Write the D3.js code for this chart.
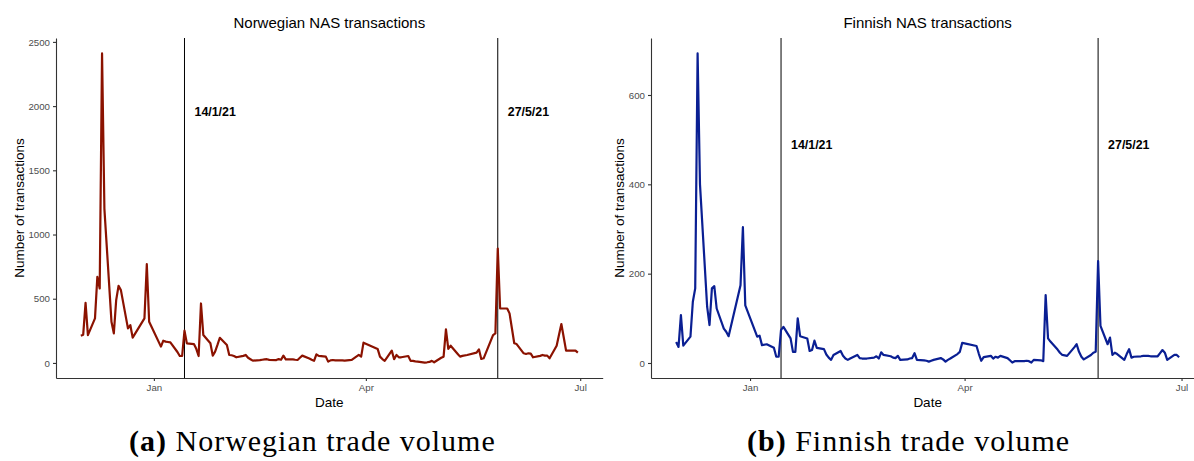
<!DOCTYPE html>
<html>
<head>
<meta charset="utf-8">
<script src="https://cdn.jsdelivr.net/npm/d3@7"></script>
<style>
	body { margin: 0; background: #fff; }
</style>
</head>
<body>
<svg id="chart" width="1194" height="461"></svg>
<script>
// Norwegian NAS daily transactions
const norDates = [
	"2020-12-01","2020-12-02","2020-12-03","2020-12-04","2020-12-07","2020-12-08","2020-12-09","2020-12-10","2020-12-11",
	"2020-12-14","2020-12-15","2020-12-16","2020-12-17","2020-12-18","2020-12-21","2020-12-22","2020-12-23",
	"2020-12-28","2020-12-29","2020-12-30","2021-01-04","2021-01-05","2021-01-06","2021-01-07","2021-01-08",
	"2021-01-11","2021-01-12","2021-01-13","2021-01-14","2021-01-15","2021-01-18","2021-01-19","2021-01-20","2021-01-21","2021-01-22",
	"2021-01-25","2021-01-26","2021-01-27","2021-01-28","2021-01-29","2021-02-01","2021-02-02","2021-02-03","2021-02-04","2021-02-05",
	"2021-02-08","2021-02-09","2021-02-10","2021-02-11","2021-02-12","2021-02-15","2021-02-16","2021-02-17","2021-02-18","2021-02-19",
	"2021-02-22","2021-02-23","2021-02-24","2021-02-25","2021-02-26","2021-03-01","2021-03-02","2021-03-03","2021-03-04","2021-03-05",
	"2021-03-08","2021-03-09","2021-03-10","2021-03-11","2021-03-12","2021-03-15","2021-03-16","2021-03-17","2021-03-18","2021-03-19",
	"2021-03-22","2021-03-23","2021-03-24","2021-03-25","2021-03-26","2021-03-29","2021-03-30","2021-03-31",
	"2021-04-06","2021-04-07","2021-04-08","2021-04-09","2021-04-12","2021-04-13","2021-04-14","2021-04-15","2021-04-16",
	"2021-04-19","2021-04-20","2021-04-21","2021-04-22","2021-04-23","2021-04-26","2021-04-27","2021-04-28","2021-04-29","2021-04-30",
	"2021-05-03","2021-05-04","2021-05-05","2021-05-06","2021-05-07","2021-05-10","2021-05-11","2021-05-12","2021-05-14",
	"2021-05-18","2021-05-19","2021-05-20","2021-05-21","2021-05-25","2021-05-26","2021-05-27","2021-05-28",
	"2021-05-31","2021-06-01","2021-06-02","2021-06-03","2021-06-04","2021-06-07","2021-06-08","2021-06-09","2021-06-10","2021-06-11",
	"2021-06-14","2021-06-15","2021-06-16","2021-06-17","2021-06-18","2021-06-21","2021-06-22","2021-06-23","2021-06-24","2021-06-25",
	"2021-06-28","2021-06-29","2021-06-30"
];
const norValues = [
	212, 220, 468, 217, 347, 670, 580, 2410, 1200,
	321, 230, 489, 600, 567, 269, 295, 197,
	347, 769, 321, 127, 173, 166, 163, 160,
	85, 54, 54, 251, 153, 147, 110, 54, 463, 217,
	153, 57, 88, 140, 196, 140, 62, 60, 54, 44,
	55, 62, 40, 29, 18, 22, 25, 28, 29, 24,
	22, 30, 25, 57, 28, 28, 25, 23, 40, 57,
	35, 25, 16, 67, 55, 49, 10, 20, 23, 20,
	20, 18, 20, 22, 23, 62, 49, 158,
	109, 49, 30, 16, 96, 29, 62, 44, 44,
	54, 16, 16, 12, 10, 3, 5, 8, 16, 5,
	40, 49, 261, 109, 134, 70, 49, 55, 62,
	80, 106, 31, 36, 217, 230, 890, 424,
	424, 386, 270, 153, 147, 75, 70, 75, 72, 44,
	55, 62, 57, 57, 36, 134, 220, 303, 200, 96,
	96, 96, 80
];

// Finnish NAS daily transactions
const finDates = [
	"2020-12-01","2020-12-02","2020-12-03","2020-12-04","2020-12-07","2020-12-08","2020-12-09","2020-12-10","2020-12-11",
	"2020-12-14","2020-12-15","2020-12-16","2020-12-17","2020-12-18","2020-12-21","2020-12-22","2020-12-23",
	"2020-12-28","2020-12-29","2020-12-30","2021-01-04","2021-01-05","2021-01-06","2021-01-08",
	"2021-01-11","2021-01-12","2021-01-13","2021-01-14","2021-01-15","2021-01-18","2021-01-19","2021-01-20","2021-01-21","2021-01-22",
	"2021-01-25","2021-01-26","2021-01-27","2021-01-28","2021-01-29","2021-02-01","2021-02-02","2021-02-03","2021-02-04","2021-02-05",
	"2021-02-08","2021-02-09","2021-02-10","2021-02-11","2021-02-12","2021-02-15","2021-02-16","2021-02-17","2021-02-18","2021-02-19",
	"2021-02-22","2021-02-23","2021-02-24","2021-02-25","2021-02-26","2021-03-01","2021-03-02","2021-03-03","2021-03-04","2021-03-05",
	"2021-03-08","2021-03-09","2021-03-10","2021-03-11","2021-03-12","2021-03-15","2021-03-16","2021-03-17","2021-03-18","2021-03-19",
	"2021-03-22","2021-03-23","2021-03-24","2021-03-25","2021-03-26","2021-03-29","2021-03-30","2021-03-31","2021-04-01",
	"2021-04-06","2021-04-07","2021-04-08","2021-04-09","2021-04-12","2021-04-13","2021-04-14","2021-04-15","2021-04-16",
	"2021-04-19","2021-04-20","2021-04-21","2021-04-22","2021-04-23","2021-04-26","2021-04-27","2021-04-28","2021-04-29","2021-04-30",
	"2021-05-03","2021-05-04","2021-05-05","2021-05-06","2021-05-07","2021-05-10","2021-05-11","2021-05-12","2021-05-14",
	"2021-05-17","2021-05-18","2021-05-19","2021-05-20","2021-05-21","2021-05-24","2021-05-25","2021-05-26","2021-05-27","2021-05-28",
	"2021-05-31","2021-06-01","2021-06-02","2021-06-03","2021-06-04","2021-06-07","2021-06-08","2021-06-09","2021-06-10","2021-06-11",
	"2021-06-14","2021-06-15","2021-06-16","2021-06-17","2021-06-18","2021-06-21","2021-06-22","2021-06-23","2021-06-24","2021-06-25",
	"2021-06-28","2021-06-29","2021-06-30"
];
const finValues = [
	47, 36, 107, 39, 59, 137, 167, 693, 400,
	126, 85, 167, 172, 122, 77, 70, 60,
	174, 304, 129, 59, 61, 40, 42,
	34, 14, 14, 74, 81, 55, 25, 25, 100, 60,
	55, 27, 29, 50, 34, 31, 19, 12, 7, 18,
	27, 16, 10, 7, 10, 18, 11, 10, 10, 10,
	12, 15, 10, 24, 18, 15, 12, 11, 16, 7,
	8, 10, 11, 22, 7, 6, 5, 3, 5, 7,
	11, 8, 3, 7, 10, 20, 25, 45, 44,
	38, 20, 5, 13, 16, 10, 14, 12, 16,
	11, 6, 1, 4, 4, 4, 5, 4, 1, 7,
	6, 4, 152, 55, 48, 30, 23, 18, 16,
	35, 42, 25, 14, 8, 18, 23, 25, 228, 83,
	42, 57, 18, 23, 20, 7, 20, 31, 12, 14,
	15, 16, 16, 16, 15, 15, 22, 29, 23, 7,
	18, 18, 13
];

const norYTicks = [0, 500, 1000, 1500, 2000, 2500];
const finYTicks = [0, 200, 400, 600];
const monthTicks = ["2021-01-01", "2021-04-01", "2021-07-01"];
const monthLabels = ["Jan", "Apr", "Jul"];
const eventDates = ["2021-01-14", "2021-05-27"];
const eventLabels = ["14/1/21", "27/5/21"];

const sans = "'Liberation Sans', Arial, sans-serif";
const serif = "'Liberation Serif', 'Times New Roman', serif";

const parse = d3.utcParse("%Y-%m-%d");
const svg = d3.select("#chart");

const panels = [
	{
		dates: norDates, values: norValues, yTicks: norYTicks, color: "#8b1200",
		title: "Norwegian NAS transactions", left: 56, right: 602.7, ylab: 19,
		labelValue: 1960, capX: 129, capTag: "(a)", capText: " Norwegian trade volume",
	},
	{
		dates: finDates, values: finValues, yTicks: finYTicks, color: "#0a1f93",
		title: "Finnish NAS transactions", left: 651, right: 1204.3, ylab: 619,
		labelValue: 488, capX: 747, capTag: "(b)", capText: " Finnish trade volume",
	},
];

const plotTop = 38;
const plotBottom = 378;

panels.forEach((p) => {
	const data = p.dates.map((d, i) => ({ date: parse(d), value: p.values[i] }));

	// ggplot style 5% expansion on both axes
	const [d0, d1] = d3.extent(data, (d) => d.date);
	const dPad = (d1 - d0) * 0.05;
	const x = d3
		.scaleUtc()
		.domain([new Date(+d0 - dPad), new Date(+d1 + dPad)])
		.range([p.left, p.right]);

	const [v0, v1] = d3.extent(data, (d) => d.value);
	const vPad = (v1 - v0) * 0.05;
	const y = d3
		.scaleLinear()
		.domain([v0 - vPad, v1 + vPad])
		.range([plotBottom, plotTop]);

	const g = svg.append("g").style("font-family", sans);

	// event lines
	eventDates.forEach((e, i) => {
		const ex = x(parse(e));
		g.append("line")
			.attr("x1", ex)
			.attr("x2", ex)
			.attr("y1", plotTop)
			.attr("y2", plotBottom)
			.attr("stroke", "black")
			.attr("stroke-width", 1);
		g.append("text")
			.attr("x", ex + 10)
			.attr("y", y(p.labelValue))
			.attr("dy", "0.35em")
			.style("font-size", "12.4px")
			.style("font-weight", "bold")
			.attr("fill", "black")
			.text(eventLabels[i]);
	});

	// series line
	const line = d3
		.line()
		.x((d) => x(d.date))
		.y((d) => y(d.value));

	g.append("path")
		.datum(data)
		.attr("d", line)
		.attr("fill", "none")
		.attr("stroke", p.color)
		.attr("stroke-width", 2.2)
		.attr("stroke-linejoin", "round");

	// axes
	const yAxis = g
		.append("g")
		.attr("transform", `translate(${p.left},0)`)
		.call(
			d3
				.axisLeft(y)
				.tickValues(p.yTicks)
				.tickFormat(d3.format("d"))
				.tickSize(3)
				.tickSizeOuter(0)
				.tickPadding(3)
		);

	const xAxis = g
		.append("g")
		.attr("transform", `translate(0,${plotBottom})`)
		.call(
			d3
				.axisBottom(x)
				.tickValues(monthTicks.map(parse))
				.tickFormat((d, i) => monthLabels[i])
				.tickSize(3)
				.tickSizeOuter(0)
				.tickPadding(3)
		);

	[yAxis, xAxis].forEach((a) => {
		a.attr("font-family", null).attr("font-size", null);
		a.select(".domain").attr("stroke", "#333").attr("stroke-width", 1.1);
		a.selectAll(".tick line").attr("stroke", "#333").attr("stroke-width", 1.1);
		a.selectAll(".tick text")
			.attr("fill", "#4d4d4d")
			.style("font-size", "9.7px")
			.style("font-family", sans);
	});

	const cx = (p.left + p.right) / 2;

	g.append("text")
		.attr("x", cx)
		.attr("y", 28)
		.attr("text-anchor", "middle")
		.style("font-size", "15px")
		.attr("fill", "black")
		.text(p.title);

	g.append("text")
		.attr("x", cx)
		.attr("y", 407)
		.attr("text-anchor", "middle")
		.style("font-size", "13.5px")
		.attr("fill", "black")
		.text("Date");

	g.append("text")
		.attr("transform", `translate(${p.ylab},${(plotTop + plotBottom) / 2}) rotate(-90)`)
		.attr("text-anchor", "middle")
		.attr("dy", "0.35em")
		.style("font-size", "13.5px")
		.attr("fill", "black")
		.text("Number of transactions");

	// subfigure caption (Computer Modern is wider than Times, so open it up a bit)
	const cap = g
		.append("text")
		.attr("x", p.capX)
		.attr("y", 451)
		.style("font-size", "30px")
		.style("letter-spacing", "1px")
		.style("font-family", serif)
		.attr("fill", "black");
	cap.append("tspan").style("font-weight", "bold").text(p.capTag);
	cap.append("tspan").text(p.capText);
});
</script>
</body>
</html>
